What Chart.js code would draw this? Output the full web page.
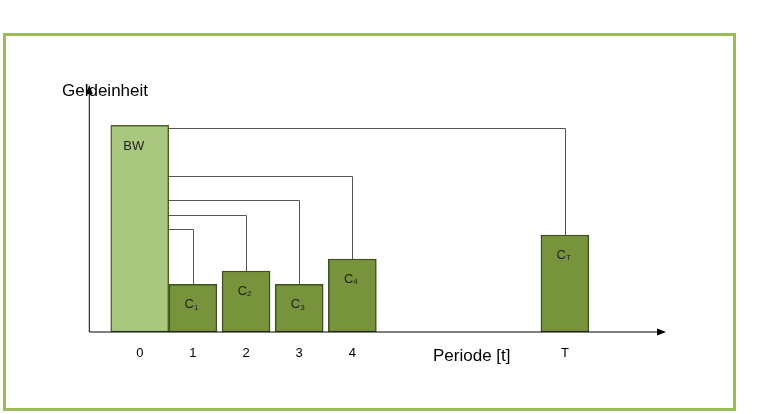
<!DOCTYPE html><html><head><meta charset="utf-8">
<script src="https://cdn.jsdelivr.net/npm/chart.js@4/dist/chart.umd.min.js"></script>
<style>html,body{margin:0;padding:0;background:#fff}#w{position:relative;width:767px;height:414px}</style>
</head><body><div id="w"><canvas id="c" width="767" height="414"></canvas></div>
<script>
const tickPos=[0,1,2,3,4,8];
const tickLabels=["0","1","2","3","4","T"];
const bwValue=[{x:0,y:100}];
const cPositions=[1,2,3,4,8];
const cValues=[23,29.5,23,35.3,46.9];
const cNames=["1","2","3","4","T"];
const linkLevels=[49.8,56.5,63.8,75.4,98.6];
const deco={id:'deco',afterDatasetsDraw(ch){
 const c=ch.ctx,xs=ch.scales.x,ys=ch.scales.y;
 c.save();
 c.strokeStyle='#9bbb59';c.lineWidth=3;c.strokeRect(4.5,34.5,730,375);
 const x0=xs.getPixelForValue(-0.95),y0=ys.getPixelForValue(0);
 c.strokeStyle='#000';c.fillStyle='#000';c.lineWidth=1;
 c.beginPath();c.moveTo(x0,y0);c.lineTo(660,y0);c.moveTo(x0,y0);c.lineTo(x0,92);c.stroke();
 c.beginPath();c.moveTo(666,y0);c.lineTo(657,y0-3.5);c.lineTo(657,y0+3.5);c.fill();
 c.beginPath();c.moveTo(x0,85);c.lineTo(x0-3.5,94);c.lineTo(x0+3.5,94);c.fill();
 c.font='17px "Liberation Sans",Arial';c.textBaseline='middle';c.textAlign='left';
 c.fillText('Geldeinheit',62,91);c.fillText('Periode [t]',433,356);
 c.font='13px "Liberation Sans",Arial';c.textAlign='center';
 tickPos.forEach((p,i)=>c.fillText(tickLabels[i],xs.getPixelForValue(p),353));
 const bwRight=ch.getDatasetMeta(0).data[0].x+29;
 c.strokeStyle='#555';
 linkLevels.forEach((lv,i)=>{const yy=Math.round(ys.getPixelForValue(lv))+0.5;
  const xx=Math.round(xs.getPixelForValue(cPositions[i]))+0.5;
  c.beginPath();c.moveTo(bwRight,yy);c.lineTo(xx,yy);c.lineTo(xx,ys.getPixelForValue(cValues[i]));c.stroke();});
 c.fillStyle='#222';
 const b=ch.getDatasetMeta(0).data[0];c.font='13px "Liberation Sans",Arial';c.textAlign='center';c.fillText('BW',b.x-6,b.y+21);
 ch.getDatasetMeta(1).data.forEach((e,i)=>{c.font='13px "Liberation Sans",Arial';c.textAlign='right';
  c.fillText('C',e.x+1,e.y+20);c.font='8px "Liberation Sans",Arial';c.textAlign='left';c.fillText(cNames[i],e.x+1,e.y+23);});
 c.restore();}};
new Chart(document.getElementById('c'),{type:'bar',
 data:{datasets:[
  {data:bwValue,backgroundColor:'#a9c77f',borderColor:'#4f6228',borderWidth:1.5,barThickness:58,borderSkipped:false},
  {data:cPositions.map((p,i)=>({x:p,y:cValues[i]})),backgroundColor:'#77933c',borderColor:'#3f5020',borderWidth:1.5,barThickness:48,borderSkipped:false}]},
 options:{responsive:false,animation:false,devicePixelRatio:1,
  layout:{padding:{left:45,right:102,top:88,bottom:82}},
  plugins:{legend:{display:false},tooltip:{enabled:false}},
  datasets:{bar:{grouped:false}},
  scales:{x:{type:'linear',min:-0.95,max:9.05,display:false},y:{min:0,max:118,display:false}}},
 plugins:[deco]});
</script></body></html>
